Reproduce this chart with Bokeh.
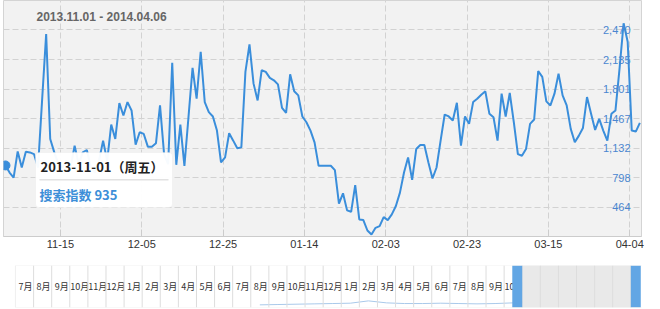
import pandas as pd
import numpy as np
from bokeh.plotting import figure
from bokeh.layouts import column
from bokeh.models import Range1d, FixedTicker, Label, BoxAnnotation, Span
from bokeh.core.properties import value
from bokeh.embed import file_html
from bokeh.resources import INLINE

# ---------------- data ----------------
start_date = "2013-11-01"
end_date = "2014-04-06"
search_index = [
    935, 855, 798, 1094, 912, 1091, 1083, 1064, 912, 1672,
    2424, 1235, 1083, 950, 912, 988, 912, 1159, 950, 1083,
    1110, 912, 855, 988, 1216, 988, 1398, 1235, 1642, 1501,
    1653, 1558, 1170, 1311, 1292, 1148, 1148, 1186, 1615, 1064,
    950, 2098, 942, 1398, 931, 1482, 2041, 1691, 2223, 1653,
    1539, 1490, 1330, 969, 1026, 1300, 1216, 1129, 1140, 1995,
    2307, 1862, 1672, 2014, 1995, 1927, 1900, 1854, 1588, 1531,
    1968, 1775, 1729, 1490, 1425, 1330, 1197, 931, 931, 931,
    931, 882, 502, 619, 426, 410, 711, 323, 316, 198,
    152, 228, 247, 350, 316, 380, 475, 627, 855, 1026,
    771, 1121, 1167, 1167, 969, 787, 912, 1216, 1512, 1490,
    1444, 1645, 1159, 1490, 1406, 1653, 1691, 1737, 1775, 1520,
    1482, 1216, 1748, 1490, 1756, 1425, 1064, 1045, 1121, 1406,
    1455, 2003, 1938, 1661, 1615, 1748, 1976, 1729, 1615, 1349,
    1197, 1273, 1360, 1710, 1520, 1338, 1463, 1330, 1216, 1520,
    1558, 2033, 2546, 2337, 1330, 1319, 1417,
]
x_tick_labels = ["11-15", "12-05", "12-25", "01-14", "02-03", "02-23", "03-15", "04-04"]
y_tick_values = [464, 798, 1132, 1467, 1801, 2135, 2470]
y_tick_labels = ["464", "798", "1,132", "1,467", "1,801", "2,135", "2,470"]
y_axis_min, y_axis_max = 130, 2804
series_name = "搜索指数"
weekday_names = ["周一", "周二", "周三", "周四", "周五", "周六", "周日"]

# navigator (overview) data
nav_first_month = "2011-07"
nav_month_labels = ["7月", "8月", "9月", "10月", "11月", "12月",
                    "1月", "2月", "3月", "4月", "5月", "6月", "7月", "8月", "9月", "10月", "11月", "12月",
                    "1月", "2月", "3月", "4月", "5月", "6月", "7月", "8月", "9月", "10月", "11月", "12月",
                    "1月", "2月", "3月", "4月"]
nav_preview_months = ["2012-08", "2012-09", "2012-10", "2012-11", "2012-12", "2013-01", "2013-02",
                      "2013-03", "2013-04", "2013-05", "2013-06", "2013-07", "2013-08", "2013-09", "2013-10"]
nav_preview_values = [100, 200, 300, 400, 500, 600, 1300, 700, 500, 500, 600, 500, 400, 500, 700]
nav_selection_months = ["2013-11", "2014-05"]

# ---------------- derived ----------------
dates = pd.date_range(start_date, end_date, freq="D")
idx = np.arange(len(search_index))
md = list(dates.strftime("%m-%d"))
tick_pos = [md.index(t) - 0.5 for t in x_tick_labels]

BLUE = "#3a8edb"
FONT = "Liberation Sans"
CJK = "Noto Sans CJK SC"
BORDER_L, BORDER_R = 3, 19

x_start = -0.49
x_end = len(search_index) - 0.6

p = figure(width=660, height=256, x_range=Range1d(x_start, x_end),
           y_range=Range1d(y_axis_min, y_axis_max), y_axis_location=None,
           output_backend="svg", toolbar_location=None, title=None,
           min_border_left=BORDER_L, min_border_right=BORDER_R, min_border_top=0,
           min_border_bottom=20,
           background_fill_color="#f2f2f2", border_fill_color="white",
           outline_line_color="#d4d4d4")

p.xaxis.ticker = FixedTicker(ticks=tick_pos)
p.xaxis.major_label_overrides = {t: lab for t, lab in zip(tick_pos, x_tick_labels)}
p.xaxis.axis_line_color = "#cccccc"
p.xaxis.major_tick_in = 7
p.xaxis.major_tick_out = 0
p.xaxis.major_tick_line_color = "#cccccc"
p.xaxis.minor_tick_line_color = None
p.xaxis.major_label_text_font_size = "11px"
p.xaxis.major_label_text_color = "#333333"
p.xaxis.major_label_text_font = FONT
p.xaxis.major_label_standoff = 3

p.xgrid.ticker = FixedTicker(ticks=tick_pos)
p.ygrid.ticker = FixedTicker(ticks=y_tick_values)
for g in (p.xgrid, p.ygrid):
    g.grid_line_color = "#d2d2d2"
    g.grid_line_dash = "6 3"
    g.grid_line_width = 1

p.line(x=idx, y=search_index, line_color=BLUE, line_width=2)
p.scatter(x=[idx[0]], y=[search_index[0]], size=9, fill_color=BLUE, line_color=BLUE)

p.text(x=[x_end] * len(y_tick_values), y=y_tick_values, text=y_tick_labels,
       x_offset=-11, text_align="right", text_baseline="middle",
       text_color="#4a86d0", text_font_size="11px", text_font=value(FONT))

title_text = f"{dates[0]:%Y.%m.%d} - {dates[-1]:%Y.%m.%d}"
p.add_layout(Label(x=33, y=220, x_units="screen", y_units="screen", text=title_text,
                   text_font=FONT, text_font_size="12px", text_font_style="bold",
                   text_color="#666666", text_baseline="middle"))

# tooltip for the first point
p.add_layout(BoxAnnotation(left=32, right=169, bottom=29, top=84,
                           left_units="screen", right_units="screen",
                           top_units="screen", bottom_units="screen",
                           fill_color="white", fill_alpha=0.96, line_color="#e4e4e4",
                           border_radius=4))
p.add_layout(BoxAnnotation(left=36, right=165, bottom=56, top=57.5,
                           left_units="screen", right_units="screen",
                           top_units="screen", bottom_units="screen",
                           fill_color="#e2e2e2", fill_alpha=1, line_color=None))
tip1 = f"{dates[0]:%Y-%m-%d}（{weekday_names[dates[0].weekday()]}）"
tip2 = f"{series_name} {search_index[0]}"
p.add_layout(Label(x=37, y=70.5, x_units="screen", y_units="screen", text=tip1,
                   text_font=CJK, text_font_size="13px", text_font_style="bold",
                   text_color="#222222", text_baseline="middle"))
p.add_layout(Label(x=36, y=42, x_units="screen", y_units="screen", text=tip2,
                   text_font=CJK, text_font_size="13px", text_font_style="bold",
                   text_color="#3d8fd8", text_baseline="middle"))

# ---------------- navigator ----------------
first = pd.Period(nav_first_month, freq="M")


def month_pos(ts):
    per = pd.Period(ts, freq="M")
    k = (per - first).n
    return k + (ts.day - 1) / per.days_in_month


n_months = len(nav_month_labels)
nav_x0, nav_x1 = -0.663, 34.59      # frame spans the same width as the main chart
nav_box_end = 34.8
nav_y0, nav_y1 = -700, 12000
nav = figure(width=660, height=53, x_range=Range1d(nav_x0, nav_x1),
             y_range=Range1d(nav_y0, nav_y1), x_axis_location=None, y_axis_location=None,
             output_backend="svg", toolbar_location=None, title=None,
             min_border_left=BORDER_L, min_border_right=BORDER_R,
             min_border_top=9, min_border_bottom=2,
             background_fill_color="white", border_fill_color="white",
             outline_line_color=None)
nav.grid.visible = False

sel0 = (pd.Period(nav_selection_months[0], freq="M") - first).n
sel1 = (pd.Period(nav_selection_months[1], freq="M") - first).n
nav.add_layout(BoxAnnotation(left=sel0, right=sel1, fill_color="#e9e9e9", fill_alpha=1,
                             line_color=None))

for k in range(1, n_months + 1):
    nav.add_layout(Span(location=k, dimension="height", line_color="#dddddd", line_width=1))

nav.text(x=[k + 0.55 for k in range(n_months)], y=[(nav_y0 + nav_y1) / 2] * n_months,
         text=nav_month_labels, text_align="center", text_baseline="middle",
         text_font_size="9px", text_color="#333333", text_font=value(CJK))

prev_x = [(pd.Period(m, freq="M") - first).n + 0.5 for m in nav_preview_months]
day_x = [month_pos(d) for d in dates]
nav.line(x=prev_x + day_x, y=nav_preview_values + search_index,
         line_color="#a9c9ea", line_width=1)

hw = 0.55
nav.add_layout(BoxAnnotation(left=sel0 - hw, right=sel0, fill_color="#62a6e4", fill_alpha=1,
                             line_color=None))
nav.add_layout(BoxAnnotation(left=sel1, right=sel1 + hw, fill_color="#62a6e4", fill_alpha=1,
                             line_color=None))
mid = (nav_y0 + nav_y1) / 2
nav.scatter(x=[sel0 - hw / 2], y=[mid], marker="triangle", angle=np.pi / 2, size=6,
            fill_color="white", line_color=None)
nav.scatter(x=[sel1 + hw / 2], y=[mid], marker="triangle", angle=-np.pi / 2, size=6,
            fill_color="white", line_color=None)

# navigator outline box
nav.add_layout(BoxAnnotation(left=0, right=nav_box_end, bottom=nav_y0, top=nav_y1,
                             fill_color=None, line_color="#cccccc", line_width=1))

layout = column(p, nav, spacing=0)
open("out.html", "w").write(file_html(layout, INLINE))
